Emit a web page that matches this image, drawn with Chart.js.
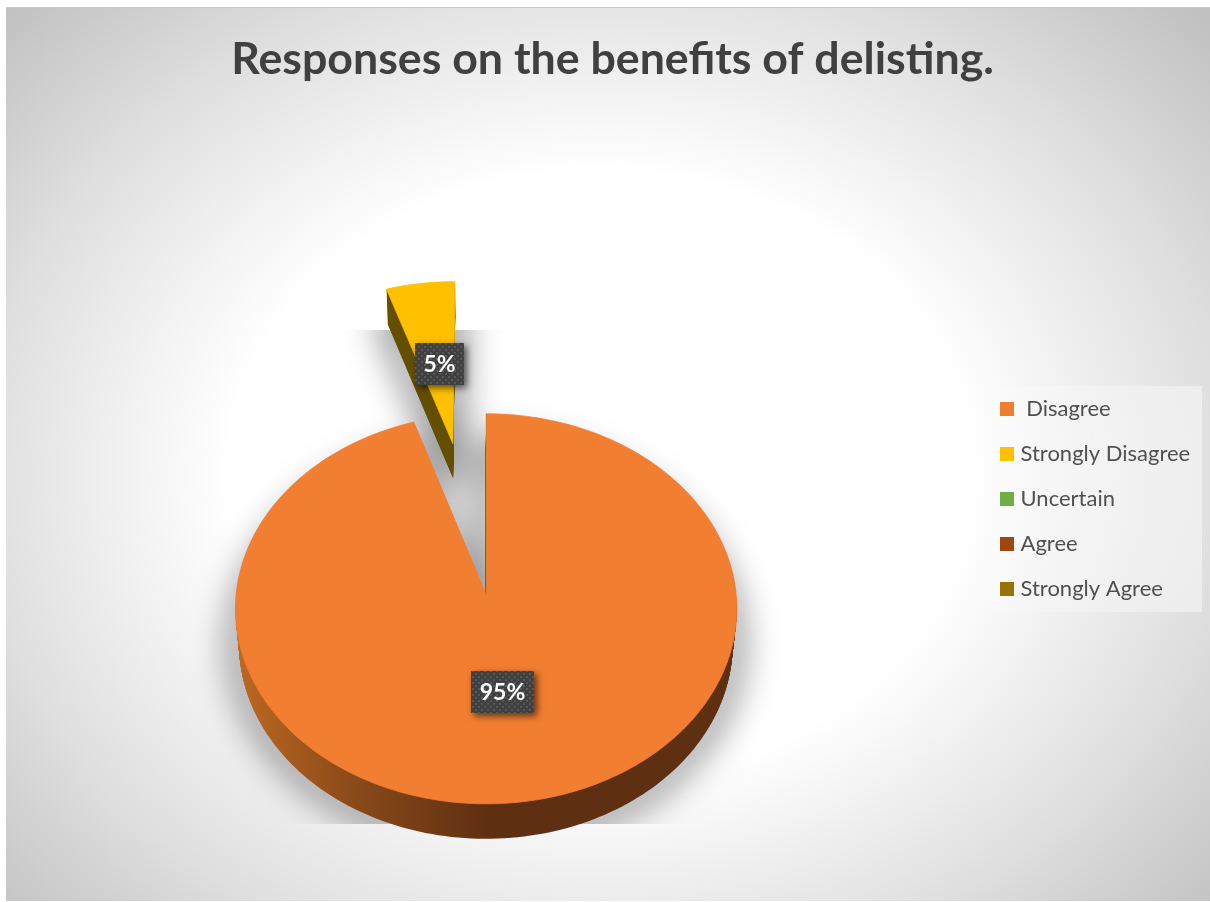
<!DOCTYPE html>
<html>
<head>
<meta charset="utf-8">
<title>Responses on the benefits of delisting.</title>
<script src="https://cdn.jsdelivr.net/npm/chart.js@4/dist/chart.umd.min.js"></script>
<style>
    html, body { margin: 0; padding: 0; background: #fff; }
    #wrap { width: 1210px; height: 902px; position: relative; }
</style>
</head>
<body>
<div id="wrap"><canvas id="pieChart"></canvas></div>
<script>
const chartTitle = 'Responses on the benefits of delisting.';
const categories = [' Disagree', 'Strongly Disagree', 'Uncertain', 'Agree', 'Strongly Agree'];
const shares = [95, 5, 0, 0, 0];
const sliceColors = ['#F27E31', '#FFC000', '#70AD47', '#9E480E', '#997300'];
const legendColors = ['#F07C31', '#FFC000', '#70AD47', '#9E480E', '#997300'];
const sliceOffsets = [0, 209];
const sliceDrift = [0, -2.5];

// Tilted view of the pie: y squash, perspective strength, thickness in px
const TILT = 0.776;
const PERSPECTIVE = 0.000287;
const DEPTH = 35;

// Where each value label sits along its slice's middle line
const labelReach = [0.488, 0.48];
const labelNudge = [-3.5, 0.6];

function project(arc, X, Y, t) {
    const k = 1 / (1 - PERSPECTIVE * Y);
    const narrow = 1 - 0.015 * t / DEPTH;
    return {
        x: arc.x - 0.3 * t / DEPTH + X * k * narrow,
        y: arc.y + TILT * Y * k + t
    };
}

// Slice outline at depth t below the top face
function tracePath(ctx, arc, t, drift) {
    const d = arc.options.offset || 0;
    const mid = (arc.startAngle + arc.endAngle) / 2;
    const ox = Math.cos(mid) * d + drift;
    const oy = Math.sin(mid) * d;
    const steps = Math.max(8, Math.ceil((arc.endAngle - arc.startAngle) * 40));
    ctx.beginPath();
    const tip = project(arc, ox, oy, t);
    ctx.moveTo(tip.x, tip.y);
    for (let i = 0; i <= steps; i++) {
        const a = arc.startAngle + (arc.endAngle - arc.startAngle) * i / steps;
        const p = project(arc, ox + arc.outerRadius * Math.cos(a), oy + arc.outerRadius * Math.sin(a), t);
        ctx.lineTo(p.x, p.y);
    }
    ctx.closePath();
}

function rimFill(ctx, index) {
    if (index !== 0) return '#655000';
    const g = ctx.createLinearGradient(240, 0, 490, 0);
    g.addColorStop(0, '#BC6821');
    g.addColorStop(0.45, '#8A4A1A');
    g.addColorStop(1, '#5E2F11');
    return g;
}

function dotPattern(ctx) {
    const cell = document.createElement('canvas');
    cell.width = 6;
    cell.height = 6;
    const c = cell.getContext('2d');
    c.fillStyle = '#404040';
    c.fillRect(0, 0, 6, 6);
    c.fillStyle = '#585858';
    c.fillRect(1, 1, 2, 2);
    c.fillRect(4, 4, 2, 2);
    return ctx.createPattern(cell, 'repeat');
}

// Legend swatches: 14px squares, kept narrow in layout so text sits close
function swatch(color) {
    const c = document.createElement('canvas');
    c.width = 14;
    c.height = 14;
    const g = c.getContext('2d');
    g.fillStyle = color;
    g.fillRect(0, 0, 14, 14);
    return c;
}

const backdropPlugin = {
    id: 'backdrop',
    beforeDraw(chart) {
        const ctx = chart.ctx;
        ctx.save();
        ctx.fillStyle = '#fff';
        ctx.fillRect(0, 0, chart.width, chart.height);

        // Elliptical wash, white in the middle and grey at the corners
        ctx.save();
        ctx.beginPath();
        ctx.rect(6, 8, 1204, 893);
        ctx.clip();
        ctx.translate(600, 475);
        ctx.scale(1, 0.82);
        const g = ctx.createRadialGradient(0, 0, 0, 0, 0, 860);
        g.addColorStop(0, '#ffffff');
        g.addColorStop(0.43, '#ffffff');
        g.addColorStop(0.72, '#DFDFDF');
        g.addColorStop(1, '#BBBBBB');
        ctx.fillStyle = g;
        ctx.fillRect(-700, -700, 1400, 1400);
        ctx.restore();

        ctx.fillStyle = '#C9C9C9';
        ctx.fillRect(6, 7, 1204, 1);

        // Panel behind the legend, barely there on its left side
        const panel = ctx.createLinearGradient(992, 0, 1202, 0);
        panel.addColorStop(0, 'rgba(255,255,255,0.12)');
        panel.addColorStop(1, 'rgba(255,255,255,0.45)');
        ctx.fillStyle = panel;
        ctx.fillRect(992, 386, 210, 226);
        ctx.restore();
    }
};

const tiltedPiePlugin = {
    id: 'tiltedPie',
    afterLayout(chart) {
        // Legend keeps its own box, placed in the right margin
        const lg = chart.legend;
        const w = lg.right - lg.left;
        const h = lg.bottom - lg.top;
        lg.left = 981.5;
        lg.right = lg.left + w;
        lg.top = 375;
        lg.bottom = lg.top + h;

        // Title centres over the frame rather than the plot area
        const tb = chart.titleBlock;
        const shift = 612.5 - (tb.left + tb.right) / 2;
        tb.left += shift;
        tb.right += shift;
    },
    beforeDatasetDraw(chart, args) {
        const ctx = chart.ctx;
        const arcs = args.meta.data;

        // Soft shadow under the pie, cut off by its rectangular box.
        // The outline is drawn far off-canvas so only its shadow lands here.
        ctx.save();
        ctx.beginPath();
        ctx.rect(6, 330, 1204, 494);
        ctx.clip();
        ctx.translate(-3000, 0);
        ctx.shadowOffsetX = 3000;
        ctx.shadowColor = 'rgba(0,0,0,0.5)';
        ctx.shadowBlur = 34;
        ctx.lineJoin = 'round';
        ctx.lineWidth = 20;
        ctx.fillStyle = '#000';
        ctx.strokeStyle = '#000';
        arcs.forEach((arc, i) => {
            if (arc.circumference <= 0) return;
            tracePath(ctx, arc, DEPTH, sliceDrift[i] || 0);
            ctx.stroke();
        });
        ctx.restore();

        // Thickness, then the top faces; far slice first
        for (let i = arcs.length - 1; i >= 0; i--) {
            const arc = arcs[i];
            if (arc.circumference <= 0) continue;
            const drift = sliceDrift[i] || 0;
            ctx.save();
            ctx.fillStyle = rimFill(ctx, i);
            for (let t = DEPTH; t > 0; t--) {
                tracePath(ctx, arc, t, drift);
                ctx.fill();
            }
            ctx.fillStyle = arc.options.backgroundColor;
            ctx.strokeStyle = arc.options.backgroundColor;
            ctx.lineWidth = 0.8;
            tracePath(ctx, arc, 0, drift);
            ctx.fill();
            ctx.stroke();
            ctx.restore();
        }

        // Value labels on dark dotted boxes
        arcs.forEach((arc, i) => {
            if (arc.circumference <= 0) return;
            const d = arc.options.offset || 0;
            const mid = (arc.startAngle + arc.endAngle) / 2;
            const r = d + arc.outerRadius * labelReach[i];
            const p = project(arc, Math.cos(mid) * r, Math.sin(mid) * r, 0);
            const text = shares[i] + '%';
            ctx.save();
            ctx.font = '700 23px Lato';
            const bw = Math.round(ctx.measureText(text).width) + 17;
            const bh = 42;
            const x = Math.round(p.x + labelNudge[i] - bw / 2);
            const y = Math.round(p.y - bh / 2);
            ctx.shadowColor = 'rgba(0,0,0,0.6)';
            ctx.shadowBlur = 7;
            ctx.shadowOffsetX = 3;
            ctx.shadowOffsetY = 3;
            ctx.fillStyle = '#404040';
            ctx.fillRect(x, y, bw, bh);
            ctx.shadowColor = 'transparent';
            ctx.fillStyle = dotPattern(ctx);
            ctx.fillRect(x, y, bw, bh);
            ctx.fillStyle = '#fff';
            ctx.textAlign = 'center';
            ctx.textBaseline = 'middle';
            ctx.fillText(text, x + bw / 2, y + bh / 2 + 1);
            ctx.restore();
        });
        return false;
    }
};

const ctx = document.getElementById('pieChart').getContext('2d');
new Chart(ctx, {
    type: 'pie',
    data: {
        labels: categories,
        datasets: [{
            data: shares,
            backgroundColor: sliceColors,
            offset: sliceOffsets,
            borderWidth: 0
        }]
    },
    options: {
        responsive: true,
        maintainAspectRatio: false,
        animation: false,
        events: [],
        radius: 250,
        layout: { padding: { left: 15, right: 34 } },
        plugins: {
            tooltip: { enabled: false },
            title: {
                display: true,
                text: chartTitle,
                color: '#404040',
                font: { family: 'Lato', size: 44.7, weight: '700' },
                padding: { top: 33, bottom: 201 }
            },
            legend: {
                position: 'right',
                align: 'start',
                labels: {
                    color: '#505050',
                    font: { family: 'Lato', size: 22 },
                    usePointStyle: true,
                    pointStyleWidth: 5,
                    padding: 23,
                    generateLabels: () => categories.map((name, i) => ({
                        text: name,
                        fontColor: '#505050',
                        fillStyle: legendColors[i],
                        strokeStyle: legendColors[i],
                        lineWidth: 0,
                        pointStyle: swatch(legendColors[i]),
                        index: i
                    }))
                }
            }
        }
    },
    plugins: [backdropPlugin, tiltedPiePlugin]
});
</script>
</body>
</html>
